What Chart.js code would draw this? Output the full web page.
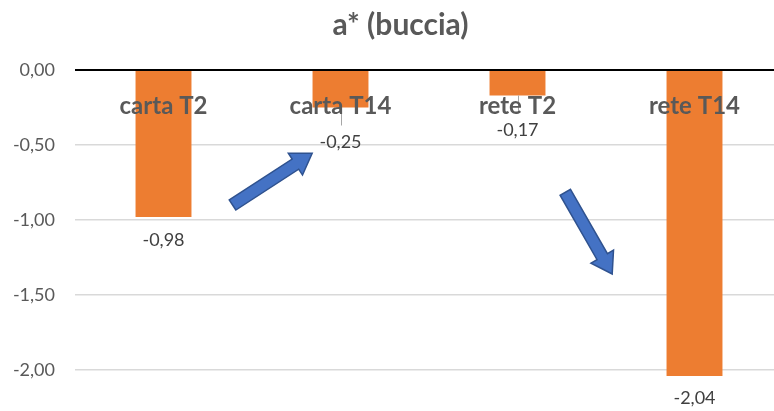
<!DOCTYPE html>
<html>
<head>
<meta charset="utf-8">
<script src="https://cdn.jsdelivr.net/npm/chart.js@4"></script>
<style>
  html, body { margin: 0; padding: 0; background: #fff; overflow: hidden; }
  #wrap { width: 783px; height: 411px; }
</style>
</head>
<body>
<div id="wrap"><canvas id="c"></canvas></div>
<script>
const categories = ['carta T2', 'carta T14', 'rete T2', 'rete T14'];
const values = [-0.98, -0.25, -0.17, -2.04];
const yTicks = [0, -0.5, -1, -1.5, -2];
const titleText = 'a* (buccia)';

const fmt = v => v.toFixed(2).replace('.', ',');
const FONT = 'Lato, "Open Sans", sans-serif';

// decorative arrows, given in data coordinates (category index, value)
const arrows = [
  { from: [0.39, -0.90], to: [0.84, -0.555] },
  { from: [2.27, -0.815], to: [2.535, -1.36] }
];

const titleShift = {
  id: 'titleShift',
  afterLayout(chart) {
    if (chart.titleBlock) chart.titleBlock.left = 18;
  }
};

const labelPlugin = {
  id: 'valueLabels',
  afterDatasetsDraw(chart) {
    const ctx = chart.ctx;
    const meta = chart.getDatasetMeta(0);
    const offs = [23, 35, 35, 22];
    ctx.save();
    meta.data.forEach((bar, i) => {
      const ly = bar.y + offs[i];
      if (offs[i] > 30) {
        ctx.beginPath();
        ctx.strokeStyle = '#A6A6A6';
        ctx.lineWidth = 1;
        ctx.moveTo(Math.round(bar.x) + 0.5, bar.y);
        ctx.lineTo(Math.round(bar.x) + 0.5, ly - 17);
        ctx.stroke();
      }
    });
    ctx.restore();
  },
  afterDraw(chart) {
    const ctx = chart.ctx;
    const meta = chart.getDatasetMeta(0);
    const offs = [23, 35, 35, 22];
    ctx.save();
    ctx.font = '18px ' + FONT;
    ctx.fillStyle = '#404040';
    ctx.textAlign = 'center';
    ctx.textBaseline = 'middle';
    meta.data.forEach((bar, i) => {
      ctx.fillText(fmt(values[i]), bar.x, bar.y + offs[i]);
    });
    ctx.restore();
  }
};

const arrowPlugin = {
  id: 'arrows',
  afterDraw(chart) {
    const ctx = chart.ctx;
    const xs = chart.scales.x, ys = chart.scales.y;
    arrows.forEach(a => {
      const x1 = xs.getPixelForValue(a.from[0]), y1 = ys.getPixelForValue(a.from[1]);
      const x2 = xs.getPixelForValue(a.to[0]), y2 = ys.getPixelForValue(a.to[1]);
      const ang = Math.atan2(y2 - y1, x2 - x1);
      const len = Math.hypot(x2 - x1, y2 - y1);
      const sw = 6, hw = 13, hl = 20;
      ctx.save();
      ctx.translate(x1, y1);
      ctx.rotate(ang);
      ctx.beginPath();
      ctx.moveTo(0, -sw);
      ctx.lineTo(len - hl, -sw);
      ctx.lineTo(len - hl, -hw);
      ctx.lineTo(len, 0);
      ctx.lineTo(len - hl, hw);
      ctx.lineTo(len - hl, sw);
      ctx.lineTo(0, sw);
      ctx.closePath();
      ctx.fillStyle = '#4472C4';
      ctx.fill();
      ctx.lineWidth = 1.5;
      ctx.strokeStyle = '#2F528F';
      ctx.stroke();
      ctx.restore();
    });
  }
};

new Chart(document.getElementById('c'), {
  type: 'bar',
  data: {
    labels: categories,
    datasets: [{
      data: values,
      backgroundColor: '#ED7D31',
      borderWidth: 0,
      categoryPercentage: 1,
      barPercentage: 0.316
    }]
  },
  options: {
    responsive: true,
    maintainAspectRatio: false,
    animation: false,
    layout: { padding: 0 },
    plugins: {
      legend: { display: false },
      tooltip: { enabled: false },
      title: {
        display: true,
        text: titleText,
        color: '#595959',
        font: { family: FONT, size: 30, weight: 'bold' },
        padding: { top: 7, bottom: 27 }
      }
    },
    scales: {
      x: {
        position: { y: 0 },
        afterFit(scale) { scale.height = 0; },
        grid: { display: false, drawTicks: false },
        border: { display: false },
        ticks: {
          z: 1,
          color: '#595959',
          padding: 22,
          font: { family: FONT, size: 24, weight: 'bold' }
        }
      },
      y: {
        min: -2.068,
        max: 0,
        afterBuildTicks(scale) {
          scale.ticks = yTicks.map(v => ({ value: v }));
        },
        afterFit(scale) { scale.width = 75; },
        grid: {
          drawTicks: false,
          color: c => (c.tick && c.tick.value === 0) ? '#000000' : '#D9D9D9',
          lineWidth: c => (c.tick && c.tick.value === 0) ? 2 : 1.5
        },
        border: { display: false },
        ticks: {
          color: '#595959',
          padding: 20,
          font: { family: FONT, size: 18 },
          callback: v => fmt(v)
        }
      }
    }
  },
  plugins: [titleShift, labelPlugin, arrowPlugin]
});
</script>
</body>
</html>
